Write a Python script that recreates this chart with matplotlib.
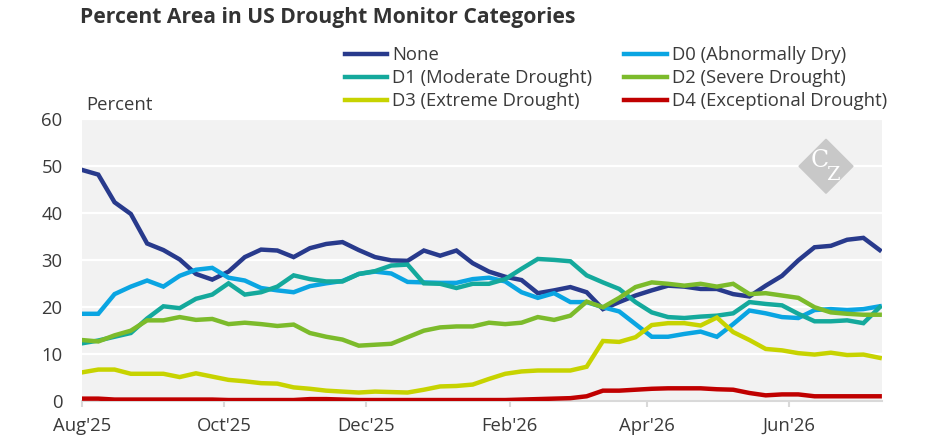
import numpy as np
import pandas as pd
import matplotlib
matplotlib.use('Agg')
import matplotlib.pyplot as plt
import matplotlib.dates as mdates
from matplotlib.patches import Polygon

plt.rcParams['font.family'] = ['Open Sans', 'DejaVu Sans']

# weekly readings, Aug 2025 - Jul 2026 (percent of area)
dates = pd.date_range('2025-08-01', periods=50, freq='7D')

none = [49.2, 48.2, 42.3, 39.8, 33.5, 32.1, 30.1, 27.0, 25.8, 27.5,
        30.6, 32.2, 32.0, 30.6, 32.5, 33.4, 33.8, 32.1, 30.6, 29.9,
        29.8, 32.0, 30.9, 32.0, 29.3, 27.5, 26.4, 25.7, 22.9, 23.5,
        24.2, 23.1, 19.5, 21.0, 22.4, 23.5, 24.5, 24.3, 23.8, 23.8,
        22.7, 22.2, 24.5, 26.6, 29.9, 32.7, 33.0, 34.3, 34.7, 32.1]
d0 = [18.5, 18.5, 22.7, 24.3, 25.6, 24.3, 26.6, 27.9, 28.3, 26.2,
      25.6, 24.0, 23.5, 23.1, 24.4, 25.0, 25.5, 27.0, 27.5, 27.1,
      25.3, 25.2, 25.1, 25.1, 25.9, 26.2, 25.4, 23.1, 21.9, 22.9,
      21.0, 21.0, 19.9, 19.0, 16.3, 13.6, 13.6, 14.2, 14.7, 13.6,
      16.3, 19.2, 18.6, 17.8, 17.6, 19.3, 19.5, 19.3, 19.5, 20.1]
d1 = [12.2, 12.8, 13.6, 14.4, 17.5, 20.1, 19.7, 21.7, 22.6, 25.0,
      22.6, 23.1, 24.3, 26.7, 25.9, 25.4, 25.4, 27.0, 27.6, 28.8,
      29.0, 25.0, 24.9, 24.0, 24.9, 24.9, 25.9, 28.1, 30.2, 30.0,
      29.7, 26.7, 25.2, 23.8, 21.0, 18.8, 17.8, 17.6, 17.9, 18.1,
      18.6, 21.0, 20.6, 20.3, 18.5, 16.9, 16.9, 17.1, 16.5, 19.9]
d2 = [12.9, 12.6, 13.9, 14.9, 17.1, 17.1, 17.8, 17.2, 17.4, 16.3,
      16.6, 16.3, 15.9, 16.2, 14.4, 13.6, 13.0, 11.7, 11.9, 12.1,
      13.5, 14.9, 15.6, 15.8, 15.8, 16.6, 16.3, 16.6, 17.8, 17.2,
      18.1, 21.1, 19.9, 21.9, 24.2, 25.2, 24.9, 24.5, 24.9, 24.3,
      24.9, 22.7, 22.9, 22.4, 21.9, 19.9, 18.8, 18.5, 18.3, 18.3]
d3 = [6.0, 6.6, 6.6, 5.7, 5.7, 5.7, 5.0, 5.8, 5.1, 4.4,
      4.1, 3.7, 3.6, 2.8, 2.5, 2.1, 1.9, 1.7, 1.9, 1.8,
      1.7, 2.3, 3.0, 3.1, 3.4, 4.6, 5.7, 6.2, 6.4, 6.4,
      6.4, 7.2, 12.7, 12.5, 13.5, 16.1, 16.5, 16.5, 16.0, 17.7,
      14.6, 12.9, 11.0, 10.7, 10.1, 9.8, 10.2, 9.7, 9.8, 9.1]
d4 = [0.4, 0.4, 0.2, 0.2, 0.2, 0.2, 0.2, 0.2, 0.2, 0.1,
      0.1, 0.1, 0.1, 0.1, 0.3, 0.3, 0.2, 0.1, 0.1, 0.1,
      0.1, 0.1, 0.1, 0.1, 0.1, 0.1, 0.1, 0.2, 0.3, 0.4,
      0.5, 0.9, 2.1, 2.1, 2.3, 2.5, 2.6, 2.6, 2.6, 2.4,
      2.3, 1.6, 1.1, 1.3, 1.3, 0.9, 0.9, 0.9, 0.9, 0.9]

labels = ['None', 'D0 (Abnormally Dry)', 'D1 (Moderate Drought)',
          'D2 (Severe Drought)', 'D3 (Extreme Drought)', 'D4 (Exceptional Drought)']
series = [none, d0, d1, d2, d3, d4]
colors = ['#283a8c', '#0aa5e2', '#14a99c', '#7cbb2b', '#c7d300', '#c00000']

txt = '#3a3a3a'
fs = 13.3

fig = plt.figure(figsize=(9.45, 4.43), dpi=100)
ax = fig.add_axes([82/945, 1 - 400.5/443, 800/945, 281.2/443])
ax.set_facecolor('#f2f2f2')

lines = []
for s, c, l in zip(series, colors, labels):
    ln, = ax.plot(dates, s, color=c, lw=3.2, label=l, solid_joinstyle='miter', zorder=3)
    lines.append(ln)

ax.set_ylim(0, 60)
ax.set_xlim(pd.Timestamp('2025-08-01'), pd.Timestamp('2026-07-11'))
ax.set_yticks(range(0, 61, 10))
ax.yaxis.grid(True, color='white', lw=1.6)
ax.set_axisbelow(True)

ax.xaxis.set_major_locator(mdates.MonthLocator(bymonth=[2, 4, 6, 8, 10, 12]))
ax.xaxis.set_major_formatter(mdates.DateFormatter("%b'%y"))

for sp in ['top', 'right', 'left']:
    ax.spines[sp].set_visible(False)
ax.spines['bottom'].set_color('#d9d9d9')
ax.spines['bottom'].set_linewidth(1.5)

ax.tick_params(axis='y', length=0, pad=14, labelsize=fs, labelcolor=txt)
ax.tick_params(axis='x', length=4, width=1.5, color='#d9d9d9', pad=8,
               labelsize=fs, labelcolor=txt)

ax.text(0.005, 1.02, 'Percent', transform=ax.transAxes, fontsize=fs,
        color=txt, va='bottom', ha='left')

# watermark logo
cx, cy, hw, hh = 0.930, 0.833, 0.03375, 0.096
ax.add_patch(Polygon([[cx - hw, cy], [cx, cy + hh], [cx + hw, cy], [cx, cy - hh]],
                     closed=True, transform=ax.transAxes, color='#c8c8c8', zorder=2))
ax.text(cx - 0.008, cy + 0.02, 'C', transform=ax.transAxes, color='white',
        fontsize=17, family='DejaVu Serif', ha='center', va='center', zorder=2)
ax.text(cx + 0.008, cy - 0.03, 'Z', transform=ax.transAxes, color='white',
        fontsize=14, family='DejaVu Serif', ha='center', va='center', zorder=2)

fig.text(80/945, 1 - 18/443, 'Percent Area in US Drought Monitor Categories',
         fontsize=15.2, fontweight='bold', color='#333333', va='center', ha='left')

order = [0, 2, 4, 1, 3, 5]
fig.legend([lines[i] for i in order], [labels[i] for i in order], ncol=2,
           loc='upper left', bbox_to_anchor=(345/945, 1 - 46/443), frameon=False,
           fontsize=fs, handlelength=2.3, handletextpad=0.25, columnspacing=1.75,
           labelspacing=0.28, borderpad=0, borderaxespad=0, labelcolor=txt)

fig.savefig('out.png', dpi=100)
